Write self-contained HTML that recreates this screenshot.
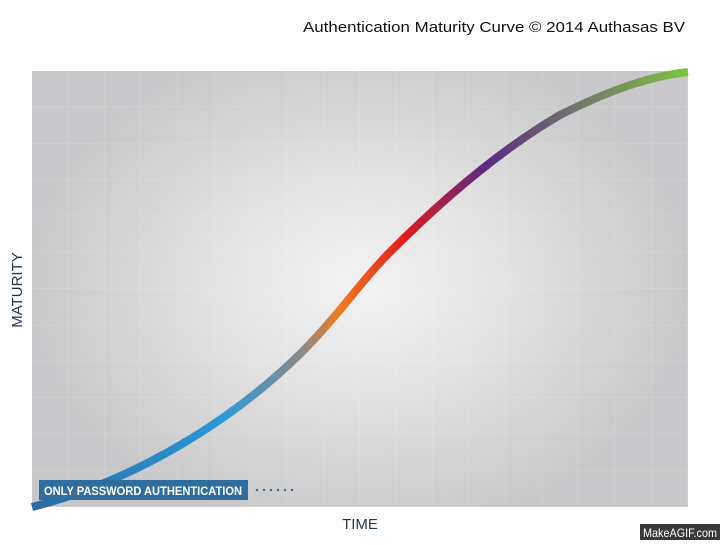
<!DOCTYPE html>
<html><head><style>
body{margin:0;background:#fff;width:720px;height:540px;overflow:hidden;font-family:"Liberation Sans",sans-serif}
</style></head><body>
<svg width="720" height="540" viewBox="0 0 720 540" xmlns="http://www.w3.org/2000/svg">
<defs>
<radialGradient id="bg" cx="360" cy="285" r="330" gradientUnits="userSpaceOnUse" gradientTransform="translate(360 285) scale(1 0.75) translate(-360 -285)">
<stop offset="0" stop-color="#f2f2f2"/><stop offset="0.45" stop-color="#e2e2e3"/><stop offset="1" stop-color="#c8c8ca"/>
</radialGradient>
<pattern id="grid" x="32" y="71" width="36.44" height="36.33" patternUnits="userSpaceOnUse">
<path d="M36.44 0V36.33M0 36.33H36.44" stroke="#fff" stroke-opacity="0.18" stroke-width="1.2" fill="none"/>
</pattern>
<linearGradient id="cg" x1="32" y1="0" x2="688" y2="0" gradientUnits="userSpaceOnUse">
<stop offset="0" stop-color="#2a6aa0"/>
<stop offset="0.29" stop-color="#2a9ad8"/>
<stop offset="0.41" stop-color="#8a8a8a"/>
<stop offset="0.47" stop-color="#f07a20"/>
<stop offset="0.57" stop-color="#e01a20"/>
<stop offset="0.69" stop-color="#5a2a80"/>
<stop offset="0.82" stop-color="#707070"/>
<stop offset="1" stop-color="#80c440"/>
</linearGradient>
</defs>
<rect x="32" y="71" width="656" height="436" fill="url(#bg)"/>
<rect x="32" y="71" width="656" height="436" fill="url(#grid)"/>
<path d="M32 507 C120 485 220 432 300 354 C340 314 360 282 390 252 C440 202 500 150 560 115 C610 90 650 76 688 72" stroke="url(#cg)" stroke-width="8" fill="none" stroke-linecap="butt"/>
<text x="303" y="32" font-size="15" textLength="382" lengthAdjust="spacingAndGlyphs" fill="#111">Authentication Maturity Curve  © 2014 Authasas BV</text>
<rect x="39" y="480" width="209" height="20" fill="#2e6d9e"/>
<text x="44" y="495" font-size="12" font-weight="bold" fill="#fff" textLength="198" lengthAdjust="spacingAndGlyphs">ONLY PASSWORD AUTHENTICATION</text>
<g fill="#2e6d9e"><circle cx="257" cy="490" r="1.2"/><circle cx="264" cy="490" r="1.2"/><circle cx="271" cy="490" r="1.2"/><circle cx="278" cy="490" r="1.2"/><circle cx="285" cy="490" r="1.2"/><circle cx="292" cy="490" r="1.2"/></g>
<text x="360" y="529" font-size="15" text-anchor="middle" fill="#1e3550">TIME</text>
<text transform="translate(22 290) rotate(-90)" font-size="15" text-anchor="middle" fill="#1e3550">MATURITY</text>
<rect x="640" y="524" width="80" height="16" fill="#3a3a3a"/>
<text x="643" y="537" font-size="12" fill="#fff" textLength="74" lengthAdjust="spacingAndGlyphs">MakeAGIF.com</text>
</svg>
</body></html>
